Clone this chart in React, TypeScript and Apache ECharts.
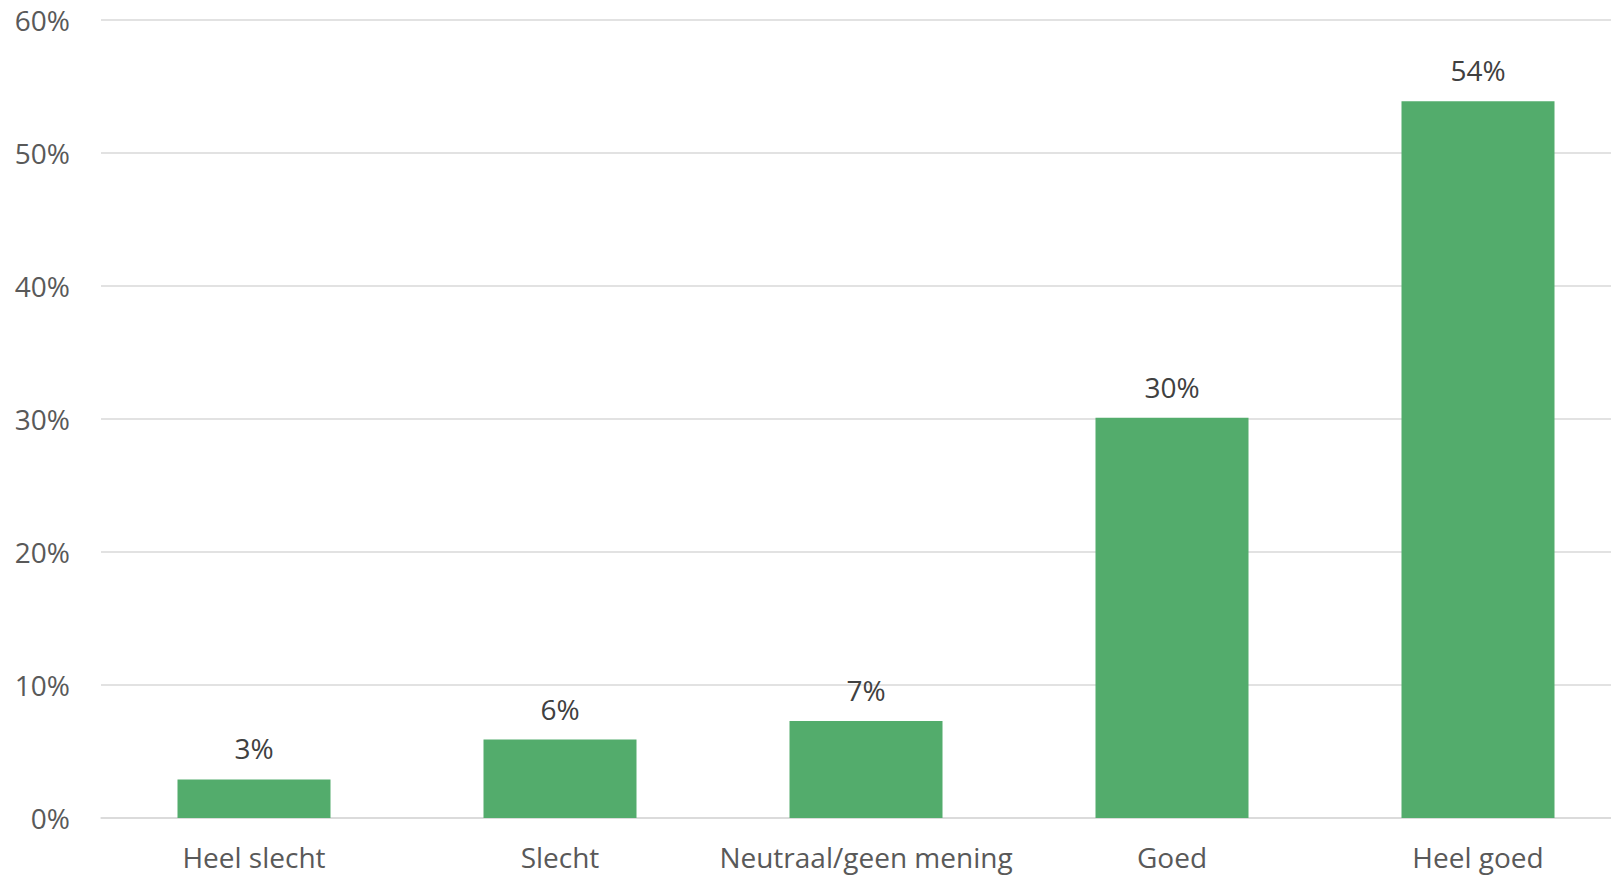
import React, { useEffect, useRef } from "react";
import * as echarts from "echarts";

const categories = ["Heel slecht", "Slecht", "Neutraal/geen mening", "Goed", "Heel goed"];
const values = [2.9, 5.9, 7.3, 30.1, 53.9];
const yTicks = { min: 0, max: 60, interval: 10 };

export default function App() {
  const ref = useRef<HTMLDivElement>(null);
  useEffect(() => {
    document.body.style.margin = "0";
    document.body.style.overflow = "hidden";
    const chart = echarts.init(ref.current!, undefined, { renderer: "svg" });
    const font = "'Open Sans', sans-serif";
    chart.setOption({
      animation: false,
      backgroundColor: "#ffffff",
      grid: { left: 101, right: 0, top: 20, bottom: 57, containLabel: false },
      xAxis: {
        type: "category",
        data: categories,
        axisLine: { show: true, lineStyle: { color: "#d9d9d9", width: 1.5 } },
        axisTick: { show: false },
        axisLabel: { color: "#595959", fontSize: 28, fontFamily: font, margin: 25, interval: 0 },
      },
      yAxis: {
        type: "value",
        min: yTicks.min,
        max: yTicks.max,
        interval: yTicks.interval,
        axisLine: { show: false },
        axisTick: { show: false },
        splitLine: { lineStyle: { color: "#d9d9d9", width: 1.5 } },
        axisLabel: { color: "#595959", fontSize: 28, fontFamily: font, margin: 31, formatter: "{value}%" },
      },
      series: [
        {
          type: "bar",
          data: values,
          barWidth: "50%",
          itemStyle: { color: "#53ac6c" },
          label: {
            show: true,
            position: "top",
            distance: 17,
            color: "#404040",
            fontSize: 28,
            fontFamily: font,
            formatter: (p: any) => Math.round(p.value) + "%",
          },
        },
      ],
    });
    return () => chart.dispose();
  }, []);
  return (
    <div style={{ width: 1611, height: 875, overflow: "hidden", position: "relative" }}>
      <div ref={ref} style={{ width: 1631, height: 875 }} />
    </div>
  );
}
